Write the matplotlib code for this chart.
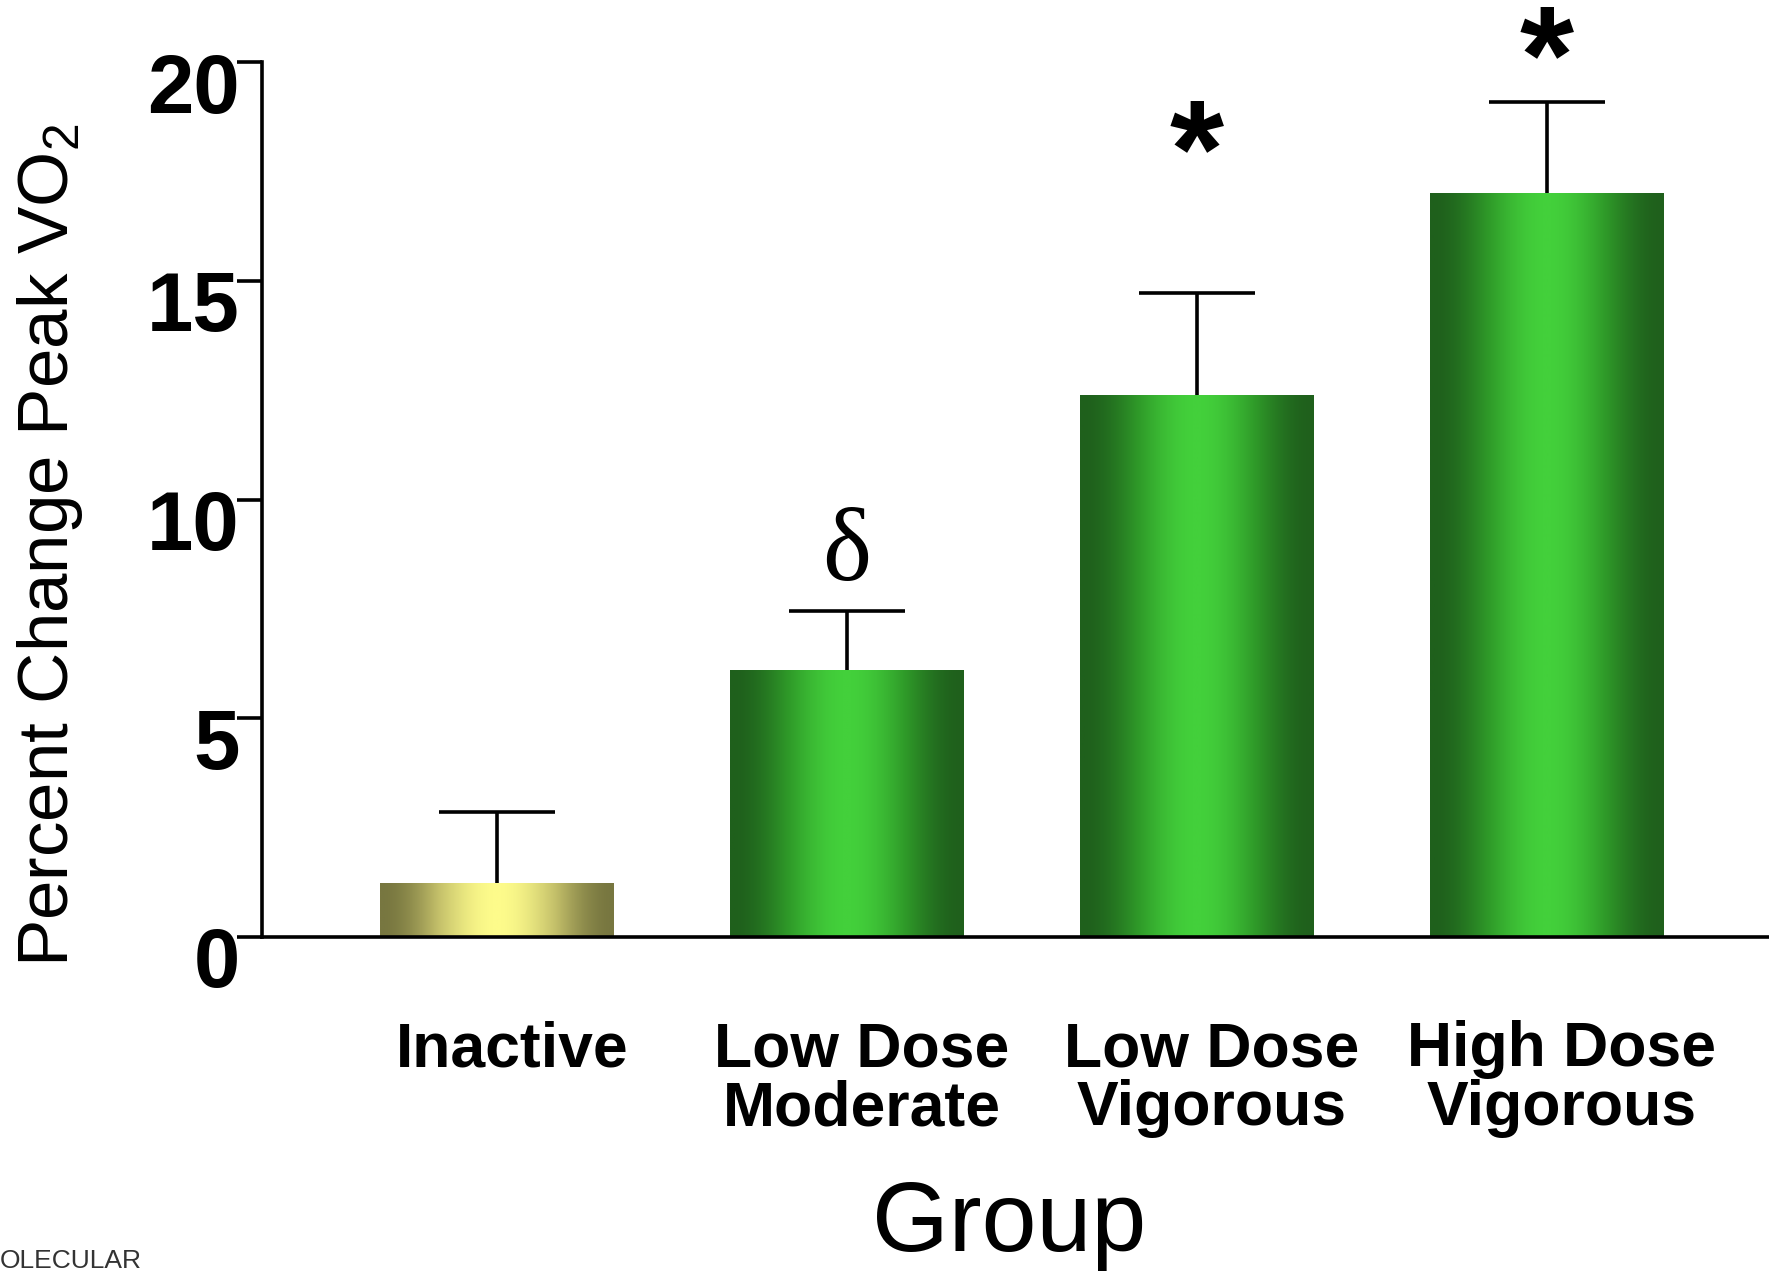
import numpy as np
import matplotlib
matplotlib.use("Agg")
import matplotlib.pyplot as plt
from matplotlib.colors import LinearSegmentedColormap
from matplotlib.transforms import ScaledTranslation

plt.rcParams['font.family'] = ['Liberation Sans', 'DejaVu Sans']
plt.rcParams['mathtext.fontset'] = 'custom'
plt.rcParams['mathtext.rm'] = 'Liberation Sans'
plt.rcParams['mathtext.it'] = 'Liberation Sans:italic'

groups = ['Inactive', 'Low Dose\nModerate', 'Low Dose\nVigorous', 'High Dose\nVigorous']
means = [1.23, 6.1, 12.39, 17.0]
errs = [1.63, 1.35, 2.33, 2.09]
sig_marks = ['', 'δ', '*', '*']
sig_y = [None, 9.0, 18.45, 20.6]   # centre height of each marker
yticks = [0, 5, 10, 15, 20]

green = ['#1f601c', '#2f9a29', '#43d03b']
yellow = ['#787740', '#c4c06a', '#fdfb8b']
bar_colors = [yellow, green, green, green]

W, H = 1769, 1273
fig = plt.figure(figsize=(W / 100, H / 100), dpi=100)
ax = fig.add_axes([262 / W, 1 - 937 / H, 1 - 262 / W, (937 - 62) / H])

x = np.arange(len(groups))
bars = ax.bar(x, means, width=0.666, color='none', edgecolor='none', zorder=2)

# horizontal shading: dark at the sides, bright in the middle
t = np.linspace(0, 1, 256)
shade = np.sin(np.pi * t) ** 2
grad = shade[np.newaxis, :]
for bar, cols in zip(bars, bar_colors):
    cmap = LinearSegmentedColormap.from_list('bar', cols)
    x0, w, h = bar.get_x(), bar.get_width(), bar.get_height()
    im = ax.imshow(grad, cmap=cmap, vmin=0, vmax=1, extent=[x0, x0 + w, 0, h],
                   aspect='auto', zorder=2, interpolation='bilinear')
    im.set_clip_path(bar)

# upper error bars only
eb = ax.errorbar(x, means, yerr=[np.zeros(len(errs)), errs], fmt='none',
                 ecolor='black', elinewidth=2.6, capsize=41.5, capthick=2.6, zorder=3)
eb[1][0].set_visible(False)

for xi, mark, yc in zip(x, sig_marks, sig_y):
    if not mark:
        continue
    if mark == '*':
        fs = 100
        ax.annotate(mark, xy=(xi, yc), xytext=(0, -0.48 * fs), textcoords='offset points',
                    ha='center', va='baseline', fontsize=fs, fontweight='bold',
                    annotation_clip=False)
    else:
        fs = 75
        ax.annotate(mark, xy=(xi, yc), xytext=(0, -0.35 * fs), textcoords='offset points',
                    ha='center', va='baseline', fontsize=fs, family='Liberation Serif',
                    annotation_clip=False)

ax.set_xlim(-0.671, -0.671 + 1507 / 350)
ax.set_ylim(0, 20)

for s in ['top', 'right']:
    ax.spines[s].set_visible(False)
ax.spines['left'].set_linewidth(2.6)
ax.spines['bottom'].set_linewidth(2.6)
ax.spines['left'].set_zorder(4)
ax.spines['bottom'].set_zorder(4)

ax.set_yticks(yticks)
ax.set_yticklabels([str(v) for v in yticks], fontsize=60, fontweight='bold')
ax.tick_params(axis='y', length=18, width=2.6, pad=-2)
ax.set_xticks(x)
ax.set_xticklabels(groups, fontsize=45, fontweight='bold', linespacing=1.0)
ax.tick_params(axis='x', length=0, pad=60)

down = ScaledTranslation(0, -0.20, fig.dpi_scale_trans)
for tick in ax.yaxis.get_major_ticks():
    tick.label1.set_transform(tick.label1.get_transform() + down)
ax.yaxis.get_major_ticks()[0].tick1line.set_color('#fcdcae')

right = ScaledTranslation(0.15, 0, fig.dpi_scale_trans)
for tick in ax.xaxis.get_major_ticks():
    tick.label1.set_transform(tick.label1.get_transform() + right)

ax.set_ylabel('Percent Change Peak VO$_2$', fontsize=51)
ax.yaxis.set_label_coords(-0.1175, 0.448)
ax.set_xlabel('Group', fontsize=71)
ax.xaxis.set_label_coords(0.496, -0.278)

fig.text(0, 1 - 1268 / H, 'OLECULAR', fontsize=19, color='#333333',
         ha='left', va='baseline')

fig.savefig('out.png', dpi=100)
